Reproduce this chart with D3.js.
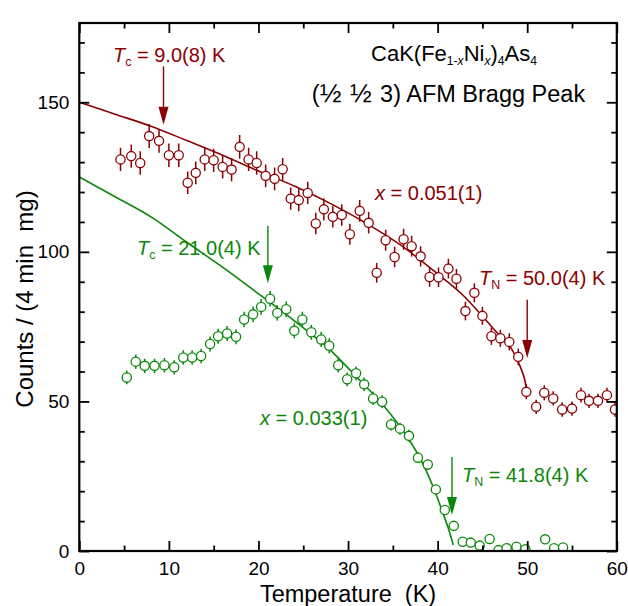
<!DOCTYPE html>
<html>
<head>
<meta charset="utf-8">
<script src="https://cdn.jsdelivr.net/npm/d3@7/dist/d3.min.js"></script>
<style>
  html, body { margin: 0; padding: 0; background: #fff; }
  svg { display: block; }
  text { font-family: "Liberation Sans", Arial, sans-serif; }
</style>
</head>
<body>
<svg id="chart" width="628" height="606"></svg>
<script>
// ---------- data ----------
const redT = [4.6,5.8,6.8,7.8,8.9,10.0,11.1,12.1,13.0,14.0,15.0,16.0,17.0,17.9,18.9,19.8,20.8,21.8,22.7,23.6,24.5,25.5,26.4,27.3,28.3,29.3,30.2,31.3,32.3,33.2,34.2,35.2,36.2,37.1,38.1,39.1,40.1,41.2,42.1,43.1,44.1,45.0,46.0,47.0,48.0,49.0,49.9,51.0,51.9,52.9,53.9,55.0,56.0,56.9,57.9,58.9,59.8];
const redV = [130.9,132.0,129.7,138.7,137.1,132.3,132.3,123.1,126.4,130.9,130.6,128.4,127.5,135.1,130.9,129.7,125.4,124.4,127.6,117.8,117.3,119.7,109.5,114.2,111.7,112.3,105.9,113.7,109.7,93.0,103.9,98.3,104.2,101.9,98.5,91.6,91.5,94.4,91.0,80.2,86.3,78.6,71.8,71.1,69.9,64.9,53.2,48.2,52.9,51.0,47.3,47.6,52.1,50.2,50.2,52.1,47.3];
const redErr = [3.9,3.9,3.9,4.0,4.0,3.9,3.9,3.8,3.8,3.9,3.9,3.9,3.9,4.0,3.9,3.9,3.8,3.8,3.8,3.7,3.7,3.7,3.6,3.7,3.6,3.6,3.5,3.6,3.6,3.3,3.5,3.4,3.5,3.5,3.4,3.3,3.3,3.3,3.3,3.1,3.2,3.0,2.9,2.9,2.9,2.8,2.5,2.4,2.5,2.4,2.4,2.4,2.5,2.4,2.4,2.5,2.4];

const greenT = [5.3,6.3,7.3,8.4,9.5,10.6,11.6,12.6,13.6,14.6,15.5,16.5,17.5,18.4,19.4,20.3,21.3,22.1,23.1,24.0,24.9,25.9,27.0,27.9,28.9,29.9,30.9,31.8,32.8,33.8,34.8,35.8,36.8,37.8,38.9,39.8,40.8,41.8,42.8,43.7,44.7,45.8,46.8,47.7,48.8,49.8,52.0,53.0,54.0];
const greenV = [58.0,63.3,61.9,61.9,62.1,61.4,64.7,64.7,65.2,69.2,71.8,72.7,71.6,77.4,79.1,81.6,84.3,79.6,80.8,73.6,77.4,73.1,70.7,68.6,62.1,57.4,59.4,55.7,51.0,49.9,42.3,40.9,38.5,31.2,28.9,20.6,13.7,8.4,3.1,2.8,1.8,4.0,0.3,0.9,1.4,0.6,3.9,0.9,1.2];
const greenErr = [2.3,2.4,2.4,2.4,2.4,2.4,2.4,2.4,2.4,2.5,2.5,2.5,2.5,2.6,2.6,2.6,2.6,2.6,2.6,2.5,2.6,2.5,2.5,2.5,2.4,2.3,2.3,2.3,2.2,2.2,2.0,2.0,2.0,1.8,1.8,1.6,1.4,1.3,1.2,1.2,1.2,1.3,1.1,1.1,1.1,1.1,1.3,1.1,1.1];

// fit curves
const redFitT = [0,4,8,12,16,20,24,28,32,36,40,43,45.5,47,48.1,49.2,49.7,50];
const redFitV = [150,146,142,137.2,132.3,127,122,116.2,109.6,102,92.6,85,76.8,71.8,68.3,61.8,57.5,53];
const greenFitT = [0,4,8.26,12,16.45,20.17,23.9,27.6,31.3,34,36.55,38,39.5,40.6,41.2,41.75];
const greenFitV = [125,118.4,111.2,103.2,93.9,85.6,77.2,68.3,57.1,48.5,38.4,31.2,21.5,12.6,7.5,2];

// axis ticks
const xMajorTicks = [0,10,20,30,40,50,60];
const xMinorTicks = [5,15,25,35,45,55];
const yMajorTicks = [0,50,100,150];
const yMinorTicks = [10,20,30,40,60,70,80,90,110,120,130,140,160,170];

// annotation arrows (temperature, start value, tip value)
const arrowsData = [
  {T: 9.4,  from: 162.0, tip: 142.5, color: "red"},
  {T: 50.0, from: 84.0,  tip: 64.5,  color: "red"},
  {T: 21.05, from: 108.6, tip: 89.5,  color: "green"},
  {T: 41.6, from: 31.4,  tip: 12.0,  color: "green"}
];

// ---------- drawing ----------
const W = 628, H = 606;
const RED = "#8b0000", GREEN = "#0b870b";
const col = c => c === "red" ? RED : GREEN;
const pL = 79.3, pR = 616.8, pT = 23, pB = 551;

const x = d3.scaleLinear().domain([0, 60]).range([pL, pR]);
const y = d3.scaleLinear().domain([0, 176.5]).range([pB, pT]);

const svg = d3.select("#chart");
svg.append("rect").attr("width", W).attr("height", H).attr("fill", "#fff");

const plot = svg.append("g");
plot.append("clipPath").attr("id", "clip").append("rect")
  .attr("x", pL).attr("y", pT).attr("width", pR - pL).attr("height", pB - pT);
const inner = plot.append("g").attr("clip-path", "url(#clip)");

// fits
const line = d3.line().x(d => x(d[0])).y(d => y(d[1])).curve(d3.curveMonotoneX);
inner.append("path").datum(redFitT.map((t, i) => [t, redFitV[i]]))
  .attr("d", line).attr("fill", "none").attr("stroke", RED).attr("stroke-width", 1.6);
inner.append("path").datum(greenFitT.map((t, i) => [t, greenFitV[i]]))
  .attr("d", line).attr("fill", "none").attr("stroke", GREEN).attr("stroke-width", 1.6);

function drawSeries(T, V, E, color) {
  const data = T.map((t, i) => ({t, v: V[i], e: E[i]}));
  const g = inner.append("g");
  g.selectAll("line.err").data(data).enter().append("line")
    .attr("x1", d => x(d.t)).attr("x2", d => x(d.t))
    .attr("y1", d => y(d.v - d.e)).attr("y2", d => y(d.v + d.e))
    .attr("stroke", color).attr("stroke-width", 1.5);
  g.selectAll("circle").data(data).enter().append("circle")
    .attr("cx", d => x(d.t)).attr("cy", d => y(d.v)).attr("r", 4.6)
    .attr("fill", "#fff").attr("stroke", color).attr("stroke-width", 1.3);
}
drawSeries(greenT, greenV, greenErr, GREEN);
drawSeries(redT, redV, redErr, RED);

// arrows
arrowsData.forEach(a => {
  const ax = x(a.T), y0 = y(a.from), y1 = y(a.tip);
  const hh = 18, hw = 5;
  svg.append("line").attr("x1", ax).attr("x2", ax).attr("y1", y0).attr("y2", y1 - hh + 2)
    .attr("stroke", col(a.color)).attr("stroke-width", 1.4);
  svg.append("path").attr("d", `M${ax - hw},${y1 - hh} L${ax + hw},${y1 - hh} L${ax},${y1} Z`)
    .attr("fill", col(a.color));
});

// axes
const axisStyle = g => {
  g.select(".domain").remove();
  g.selectAll(".tick line").attr("stroke", "#000").attr("stroke-width", 1.8);
  g.selectAll(".tick text").attr("font-size", 19).attr("fill", "#000")
    .style("font-family", '"Liberation Sans", Arial, sans-serif');
};
svg.append("g").attr("transform", `translate(0,${pB})`)
  .call(d3.axisBottom(x).tickValues(xMajorTicks).tickSize(-10).tickPadding(11).tickFormat(d3.format("d"))).call(axisStyle);
svg.append("g").attr("transform", `translate(0,${pB})`)
  .call(d3.axisBottom(x).tickValues(xMinorTicks).tickSize(-5.5).tickFormat("")).call(axisStyle);
svg.append("g").attr("transform", `translate(0,${pT})`)
  .call(d3.axisTop(x).tickValues(xMajorTicks).tickSize(-10).tickFormat("")).call(axisStyle);
svg.append("g").attr("transform", `translate(0,${pT})`)
  .call(d3.axisTop(x).tickValues(xMinorTicks).tickSize(-5.5).tickFormat("")).call(axisStyle);
svg.append("g").attr("transform", `translate(${pL},0)`)
  .call(d3.axisLeft(y).tickValues(yMajorTicks).tickSize(-10).tickPadding(10).tickFormat(d3.format("d"))).call(axisStyle);
svg.append("g").attr("transform", `translate(${pL},0)`)
  .call(d3.axisLeft(y).tickValues(yMinorTicks).tickSize(-5.5).tickFormat("")).call(axisStyle);
svg.append("g").attr("transform", `translate(${pR},0)`)
  .call(d3.axisRight(y).tickValues(yMajorTicks).tickSize(-10).tickFormat("")).call(axisStyle);
svg.append("g").attr("transform", `translate(${pR},0)`)
  .call(d3.axisRight(y).tickValues(yMinorTicks).tickSize(-5.5).tickFormat("")).call(axisStyle);

svg.append("rect").attr("x", pL).attr("y", pT).attr("width", pR - pL).attr("height", pB - pT)
  .attr("fill", "none").attr("stroke", "#000").attr("stroke-width", 2.2);

// axis titles
svg.append("text").attr("x", (pL + pR) / 2).attr("y", 602).attr("text-anchor", "middle")
  .attr("font-size", 23.5).attr("fill", "#000").style("white-space", "pre").text("Temperature  (K)");
svg.append("text").attr("transform", "translate(33,299) rotate(-90)").attr("text-anchor", "middle")
  .attr("font-size", 24).attr("fill", "#000").style("white-space", "pre").text("Counts / (4 min  mg)");

// rich text helper
function rich(xp, yp, parts, color, size, anchor) {
  const t = svg.append("text").attr("x", xp).attr("y", yp).attr("fill", color)
    .attr("font-size", size).attr("text-anchor", anchor || "start").style("white-space", "pre");
  parts.forEach(p => {
    const s = t.append("tspan").text(p.t);
    if (p.i) s.attr("font-style", "italic");
    if (p.sub) s.attr("font-size", size * (p.sub === 2 ? 0.55 : 0.62)).attr("baseline-shift", "-30%");
    if (p.fs) s.attr("font-size", p.fs);
    if (p.dx) s.attr("dx", p.dx);
  });
  return t;
}

rich(113, 62, [{t: "T", i: 1}, {t: "c", sub: 1}, {t: " = 9.0(8) K"}], RED, 20);
rich(375, 200, [{t: "x", i: 1}, {t: " = 0.051(1)"}], RED, 20);
rich(479, 285, [{t: "T", i: 1}, {t: "N", sub: 1}, {t: " = 50.0(4) K"}], RED, 20);
rich(137, 255, [{t: "T", i: 1}, {t: "c", sub: 1}, {t: " = 21.0(4) K"}], GREEN, 20);
rich(260, 425, [{t: "x", i: 1}, {t: " = 0.033(1)"}], GREEN, 20);
rich(462, 482, [{t: "T", i: 1}, {t: "N", sub: 1}, {t: " = 41.8(4) K"}], GREEN, 20);

rich(454, 61, [{t: "CaK(Fe"}, {t: "1-", sub: 2}, {t: "x", sub: 2, i: 1}, {t: "Ni"}, {t: "x", sub: 2, i: 1},
  {t: ")"}, {t: "4", sub: 2}, {t: "As"}, {t: "4", sub: 2}], "#000", 22, "middle");
rich(448.5, 102, [{t: "("}, {t: "½", fs: 26}, {t: " "}, {t: "½", fs: 26, dx: 2}, {t: " 3) AFM Bragg Peak", dx: 2}], "#000", 23.5, "middle");
</script>
</body>
</html>
